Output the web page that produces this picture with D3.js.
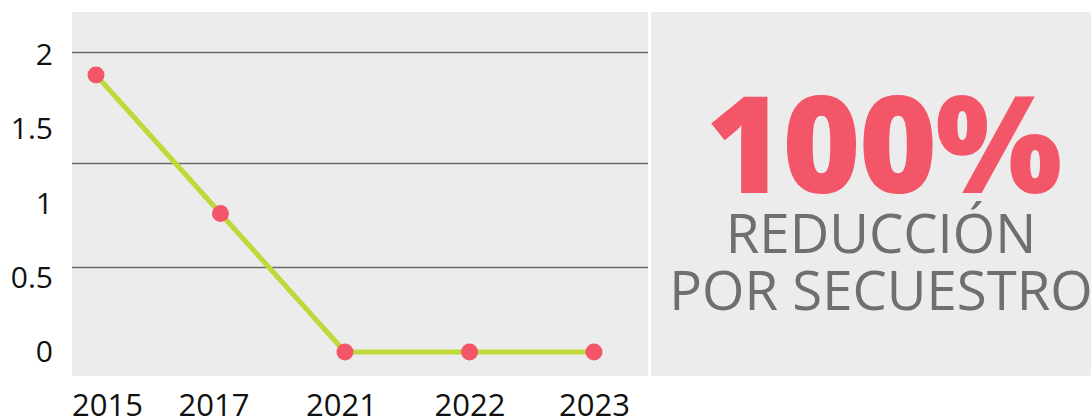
<!DOCTYPE html>
<html>
<head>
<meta charset="utf-8">
<script src="https://cdn.jsdelivr.net/npm/d3@7"></script>
<style>
  html, body { margin: 0; padding: 0; background: #fff; }
  svg { display: block; }
  text { font-family: "Open Sans", "DejaVu Sans", sans-serif; }
</style>
</head>
<body>
<svg id="chart" width="1092" height="419"></svg>
<script>
// ---- data ----
const years = ["2015", "2017", "2021", "2022", "2023"];
const values = [2, 1, 0, 0, 0];
const yTickLabels = ["0", "0.5", "1", "1.5", "2"];
const yTickValues = [0, 0.5, 1, 1.5, 2];
const gridValues = [2.02, 1.27, 0.57];
const bigNumber = "100%";
const subtitleLines = ["REDUCCIÓN", "POR SECUESTRO"];
const titleText = "SECUESTRO";

const svg = d3.select("#chart");

// panels
const plot = { x0: 72, x1: 648, y0: 12, y1: 376 };
const side = { x0: 651, x1: 1091, y0: 12, y1: 376 };

svg.append("rect")
  .attr("x", plot.x0).attr("y", plot.y0)
  .attr("width", plot.x1 - plot.x0).attr("height", plot.y1 - plot.y0)
  .attr("fill", "#ececec");

svg.append("rect")
  .attr("x", side.x0).attr("y", side.y0)
  .attr("width", side.x1 - side.x0).attr("height", side.y1 - side.y0)
  .attr("rx", 2)
  .attr("fill", "#ececec");

// scales
const x = d3.scalePoint().domain(years).range([96, 594]);
const yAxisScale = d3.scaleLinear().domain([0, 2]).range([352, 55]);
const y = d3.scaleLinear().domain([0, 2]).range([352, 75]);

// gridlines
svg.append("g").selectAll("line")
  .data(gridValues).join("line")
  .attr("x1", plot.x0).attr("x2", plot.x1)
  .attr("y1", d => Math.round(yAxisScale(d)) + 0.5)
  .attr("y2", d => Math.round(yAxisScale(d)) + 0.5)
  .attr("stroke", "#6a6a6a").attr("stroke-width", 1.5);

// y axis labels
const yAxis = d3.axisLeft(yAxisScale)
  .tickValues(yTickValues)
  .tickFormat((d, i) => yTickLabels[i])
  .tickSize(0).tickPadding(0);
const gy = svg.append("g").attr("transform", "translate(53,0)").call(yAxis);
gy.select(".domain").remove();
gy.selectAll("text")
  .attr("font-family", "'Open Sans', sans-serif")
  .attr("font-size", 30)
  .attr("fill", "#111");

// x axis labels
const xAxis = d3.axisBottom(x).tickSize(0).tickPadding(0);
const gx = svg.append("g").attr("transform", "translate(0,394)").call(xAxis);
gx.select(".domain").remove();
gx.selectAll("text")
  .attr("font-family", "'Open Sans', sans-serif")
  .attr("font-size", 31)
  .attr("fill", "#111")
  .attr("dy", "0.71em")
  .attr("dx", (d, i) => i === 0 ? 11 : (i === 1 ? -7 : (i === 2 ? -4 : 0)));

// line
const line = d3.line()
  .x((d, i) => x(years[i]))
  .y(d => y(d));
svg.append("path")
  .datum(values)
  .attr("d", line)
  .attr("fill", "none")
  .attr("stroke", "#bfd83a")
  .attr("stroke-width", 5)
  .attr("stroke-linejoin", "round");

// points
svg.append("g").selectAll("circle")
  .data(values).join("circle")
  .attr("cx", (d, i) => x(years[i]))
  .attr("cy", d => y(d))
  .attr("r", 8.5)
  .attr("fill", "#f35668");

// cut-off title at top
svg.append("text")
  .attr("x", 555).attr("y", 0)
  .attr("text-anchor", "middle")
  .attr("font-family", "'Open Sans', sans-serif")
  .attr("font-weight", 700)
  .attr("font-size", 38)
  .attr("fill", "#f35668")
  .text(titleText);

// side panel text
const cx = 881;
svg.append("text")
  .attr("x", cx + 2).attr("y", 193)
  .attr("text-anchor", "middle")
  .attr("font-family", "'Open Sans', sans-serif")
  .attr("font-weight", 800)
  .attr("font-size", 134)
  .attr("letter-spacing", -2)
  .attr("fill", "#f35668")
  .text(bigNumber);

svg.append("g").selectAll("text")
  .data(subtitleLines).join("text")
  .attr("x", cx)
  .attr("y", (d, i) => 253 + i * 57)
  .attr("text-anchor", "middle")
  .attr("font-family", "'Open Sans', sans-serif")
  .attr("font-weight", 400)
  .attr("font-size", 54.5)
  .attr("fill", "#6f6f6f")
  .text(d => d);
</script>
</body>
</html>
